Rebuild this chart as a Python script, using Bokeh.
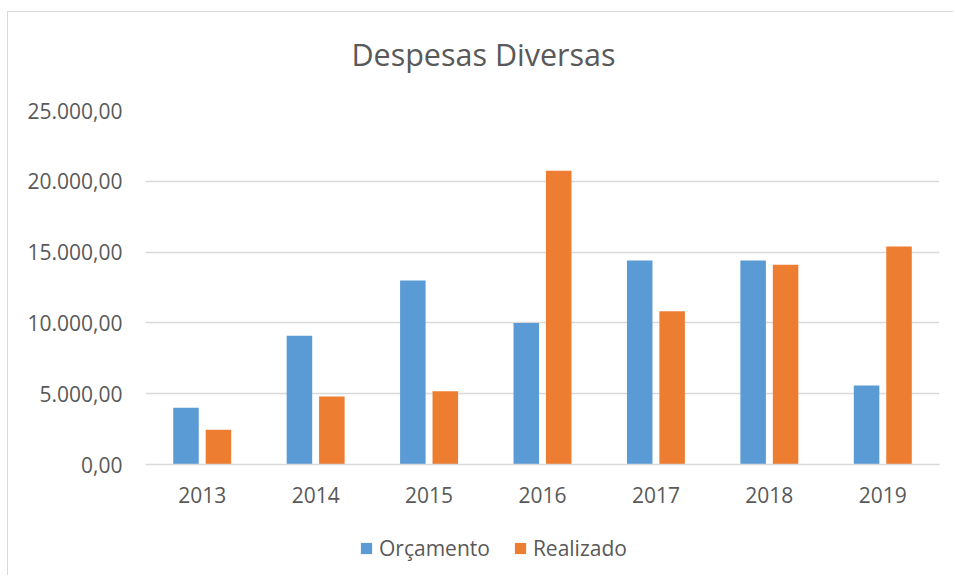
from bokeh.plotting import figure
from bokeh.layouts import column
from bokeh.models import (ColumnDataSource, FactorRange, Range1d, Legend, Label,
                          LegendItem, CustomJSTickFormatter, FixedTicker)
from bokeh.transform import dodge
from bokeh.embed import file_html
from bokeh.resources import INLINE

# ---- data ----
years = ["2013", "2014", "2015", "2016", "2017", "2018", "2019"]
orcamento = [4000, 9100, 13000, 10000, 14400, 14400, 5580]
realizado = [2450, 4800, 5180, 20750, 10830, 14100, 15400]
series_names = ["Orçamento", "Realizado"]
y_ticks = [0, 5000, 10000, 15000, 20000, 25000]
title_text = "Despesas Diversas"

BLUE = "#5B9BD5"
ORANGE = "#ED7D31"
TXT = "#595959"
GRID = "#d9d9d9"
FONT = "Open Sans"
W = 945


def strip(h, **kw):
    f = figure(width=W, height=h, output_backend="svg", toolbar_location=None,
               x_axis_location=None, y_axis_location=None, title_location=None,
               min_border=0, min_border_left=0, min_border_right=0,
               min_border_top=0, min_border_bottom=0, **kw)
    f.outline_line_color = None
    f.grid.visible = False
    return f


src = ColumnDataSource(dict(year=years, orc=orcamento, real=realizado))

# ---- title strip (frame is aligned with the main chart's frame) ----
tf = strip(70, x_range=Range1d(0, 1), y_range=Range1d(0, 1))
tf.add_layout(Label(x=338, y=29, x_units="screen", y_units="screen",
                    text=title_text, text_align="center", text_baseline="middle",
                    text_font=FONT, text_font_size="30.5px", text_color=TXT))

# ---- main chart ----
p = figure(x_range=FactorRange(*years, range_padding=0),
           y_range=Range1d(0, 25000),
           width=W, height=445, title_location=None,
           output_backend="svg", toolbar_location=None,
           min_border_left=137, min_border_right=14,
           min_border_top=28, min_border_bottom=63)

r1 = p.vbar(x=dodge("year", -0.143, range=p.x_range), top="orc", width=0.225,
            source=src, fill_color=BLUE, line_color=None)
r2 = p.vbar(x=dodge("year", 0.143, range=p.x_range), top="real", width=0.225,
            source=src, fill_color=ORANGE, line_color=None)

p.yaxis.ticker = FixedTicker(ticks=y_ticks)
p.yaxis.formatter = CustomJSTickFormatter(code="""
const s = Number(tick).toFixed(2);
const parts = s.split('.');
return parts[0].replace(/\\B(?=(\\d{3})+(?!\\d))/g, '.') + ',' + parts[1];
""")
p.yaxis.axis_line_color = None
p.yaxis.major_tick_line_color = None
p.yaxis.minor_tick_line_color = None
p.yaxis.major_tick_out = 0
p.yaxis.minor_tick_out = 0
p.yaxis.major_label_text_font = FONT
p.yaxis.major_label_text_font_size = "21px"
p.yaxis.major_label_text_color = TXT
p.yaxis.major_label_standoff = 23

p.xaxis.axis_line_color = GRID
p.xaxis.axis_line_width = 1.5
p.xaxis.major_tick_line_color = None
p.xaxis.minor_tick_line_color = None
p.xaxis.major_tick_out = 0
p.xaxis.minor_tick_out = 0
p.xaxis.major_label_text_font = FONT
p.xaxis.major_label_text_font_size = "21px"
p.xaxis.major_label_text_color = TXT
p.xaxis.major_label_standoff = 22

p.xgrid.grid_line_color = None
p.ygrid.grid_line_color = GRID
p.ygrid.grid_line_width = 1.5
p.outline_line_color = None

# ---- legend strip (separate figure so the legend is not clipped);
#      its bars lie far outside its own view, only the legend shows ----
lf = strip(48, x_range=p.x_range, y_range=Range1d(1e7, 2e7))
l1 = lf.vbar(x="year", top="orc", width=0.225, source=src,
             fill_color=BLUE, line_color=None)
l2 = lf.vbar(x="year", top="real", width=0.225, source=src,
             fill_color=ORANGE, line_color=None)
legend = Legend(items=[LegendItem(label=series_names[0], renderers=[l1]),
                       LegendItem(label=series_names[1], renderers=[l2])],
                orientation="horizontal", location=(214, 13),
                glyph_width=14, glyph_height=14, label_standoff=6, spacing=23,
                padding=0, margin=0, border_line_color=None,
                background_fill_alpha=0,
                label_text_font=FONT, label_text_font_size="21px",
                label_text_color=TXT)
lf.add_layout(legend)

layout = column(tf, p, lf, spacing=0)
layout.styles = {"border-left": "1px solid #d9d9d9",
                 "border-top": "1px solid #d9d9d9",
                 "margin-top": "11px", "margin-left": "7px"}

open("out.html", "w").write(file_html(layout, INLINE))
